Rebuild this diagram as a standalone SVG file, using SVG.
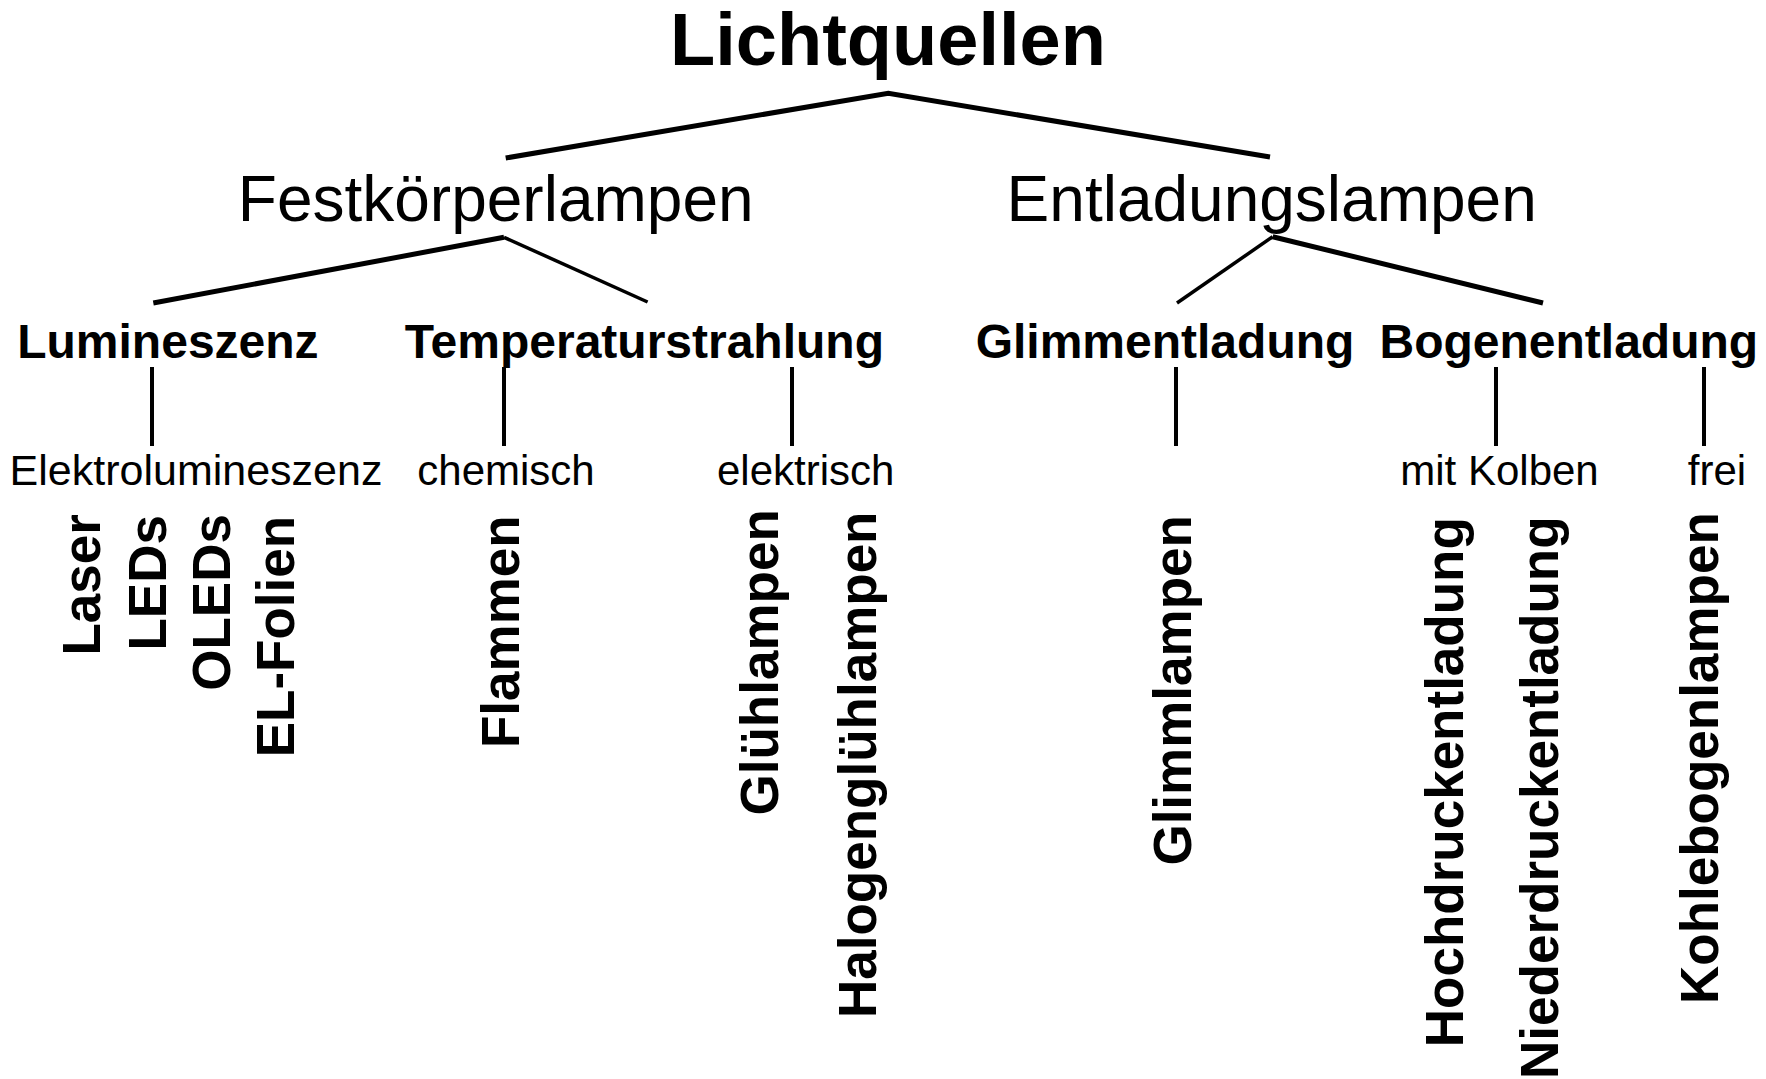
<svg xmlns="http://www.w3.org/2000/svg" width="1766" height="1079" viewBox="0 0 1766 1079">
<style>
text{font-family:"Liberation Sans",Arial,sans-serif;fill:#000}
.t0{font-size:74px;font-weight:bold;text-anchor:middle}
.t1{font-size:64px;text-anchor:middle}
.t2{font-size:48px;font-weight:bold;text-anchor:middle}
.t3{font-size:42px;text-anchor:middle}
.v{font-size:53px;font-weight:bold}
.thick{stroke:#000;stroke-width:5;fill:none}
.thin{stroke:#000;stroke-width:3.5;fill:none}
.vl{stroke:#000;stroke-width:4;fill:none}
</style>
<rect width="1766" height="1079" fill="#fff"/>
<g id="connectors">
<polyline class="thick" points="505.7,158 888.3,93.3 1270,157"/>
<line class="thick" x1="504" y1="237.3" x2="153.3" y2="303"/>
<line class="thin" x1="504" y1="237.3" x2="647.6" y2="302"/>
<line class="thin" x1="1272.7" y1="236.7" x2="1177" y2="303"/>
<line class="thick" x1="1272.7" y1="236.7" x2="1543" y2="303"/>
<line class="vl" x1="152" y1="367" x2="152" y2="446"/>
<line class="vl" x1="504" y1="367" x2="504" y2="446"/>
<line class="vl" x1="792" y1="367" x2="792" y2="446"/>
<line class="vl" x1="1176" y1="367" x2="1176" y2="446"/>
<line class="vl" x1="1496" y1="367" x2="1496" y2="446"/>
<line class="vl" x1="1704" y1="367" x2="1704" y2="446"/>
</g>
<g id="n-lichtquellen"><text class="t0" x="888" y="65">Lichtquellen</text></g>
<g id="n-festkoerperlampen"><text class="t1" x="495.7" y="221">Festkörperlampen</text></g>
<g id="n-entladungslampen"><text class="t1" x="1271.7" y="221">Entladungslampen</text></g>
<g id="n-lumineszenz"><text class="t2" x="167.9" y="358">Lumineszenz</text></g>
<g id="n-temperaturstrahlung"><text class="t2" x="644.4" y="358">Temperaturstrahlung</text></g>
<g id="n-glimmentladung"><text class="t2" x="1165" y="358">Glimmentladung</text></g>
<g id="n-bogenentladung"><text class="t2" x="1568.8" y="358">Bogenentladung</text></g>
<g id="n-elektrolumineszenz"><text class="t3" x="196" y="485" style="font-size:43px">Elektrolumineszenz</text></g>
<g id="n-chemisch"><text class="t3" x="506" y="485">chemisch</text></g>
<g id="n-elektrisch"><text class="t3" x="805.7" y="485">elektrisch</text></g>
<g id="n-mitkolben"><text class="t3" x="1499.5" y="485">mit Kolben</text></g>
<g id="n-frei"><text class="t3" x="1717" y="485">frei</text></g>
<g id="n-laser"><text class="v" transform="translate(100,655.6) rotate(-90)">Laser</text></g>
<g id="n-leds"><text class="v" transform="translate(165.7,650.6) rotate(-90)">LEDs</text></g>
<g id="n-oleds"><text class="v" transform="translate(229.5,690.8) rotate(-90)">OLEDs</text></g>
<g id="n-elfolien"><text class="v" transform="translate(294,757.3) rotate(-90)">EL-Folien</text></g>
<g id="n-flammen"><text class="v" transform="translate(519.4,748) rotate(-90)">Flammen</text></g>
<g id="n-gluehlampen"><text class="v" transform="translate(777.5,815.5) rotate(-90)">Glühlampen</text></g>
<g id="n-halogengluehlampen"><text class="v" transform="translate(875.5,1018) rotate(-90)">Halogenglühlampen</text></g>
<g id="n-glimmlampen"><text class="v" transform="translate(1191.2,865.6) rotate(-90)">Glimmlampen</text></g>
<g id="n-hochdruck"><text class="v" transform="translate(1462.7,1047.2) rotate(-90)">Hochdruckentladung</text></g>
<g id="n-niederdruck"><text class="v" transform="translate(1558.3,1078.9) rotate(-90)">Niederdruckentladung</text></g>
<g id="n-kohlebogen"><text class="v" transform="translate(1718.3,1004) rotate(-90)">Kohlebogenlampen</text></g>
</svg>
